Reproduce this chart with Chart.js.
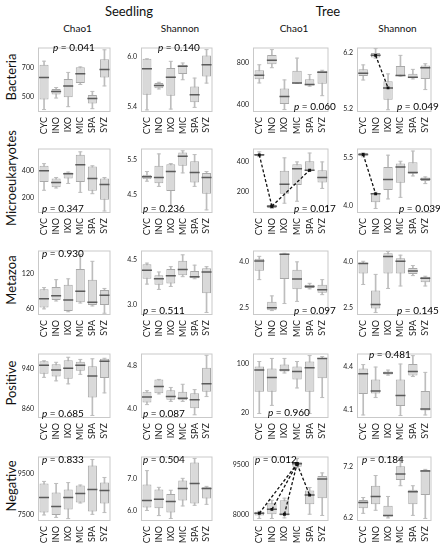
<!DOCTYPE html>
<html>
<head>
<meta charset="utf-8">
<script src="https://cdn.jsdelivr.net/npm/chart.js@4.4.1/dist/chart.umd.min.js"></script>
<style>
  body { margin: 0; background: #fff; font-family: Lato, sans-serif; }
  #wrap { position: relative; width: 440px; height: 550px; overflow: hidden; }
  .panel { position: absolute; }
  .txt { position: absolute; white-space: nowrap; color: #111; font-weight: 400; line-height: 1; transform: translate(-50%, -50%); }
  .pval { position: absolute; white-space: nowrap; font-size: 10px; color: #000; line-height: 1; transform: translateY(-50%); }
  .rowlab { position: absolute; font-size: 13px; color: #111; line-height: 1; white-space: nowrap; transform: translate(-50%, -50%) rotate(-90deg); }
</style>
</head>
<body>
<div id="wrap"></div>
<script>
const groups = ['CYC', 'INO', 'IXO', 'MIC', 'SPA', 'SYZ'];
const rowNames = ['Bacteria', 'Microeukaryotes', 'Metazoa', 'Positive', 'Negative'];
const stages = ['Seedling', 'Tree'];
const indexNames = ['Chao1', 'Shannon', 'Chao1', 'Shannon'];

// each box: [min, q1, median, q3, max], in group order
const seedChaoBacteria = [[410, 479, 632, 721, 746], [490, 515, 536, 552, 563], [430, 496, 574, 622, 668], [584, 595, 658, 704, 706], [416, 452, 486, 511, 536], [574, 632, 689, 759, 825]];
const seedShanBacteria = [[5.36, 5.54, 5.85, 5.97, 5.97], [5.61, 5.62, 5.65, 5.68, 5.69], [5.37, 5.53, 5.75, 5.86, 5.94], [5.72, 5.79, 5.88, 5.90, 5.92], [5.39, 5.45, 5.54, 5.64, 5.74], [5.68, 5.76, 5.90, 6.01, 6.08]];
const treeChaoBacteria = [[605, 640, 677, 725, 777], [749, 783, 820, 869, 920], [354, 406, 477, 554, 634], [600, 600, 605, 720, 840], [575, 582, 591, 640, 685], [485, 597, 706, 720, 725]];
const treeShanBacteria = [[5.71, 5.78, 5.83, 5.90, 5.98], [6.10, 6.11, 6.15, 6.19, 6.27], [5.18, 5.36, 5.57, 5.69, 5.82], [5.78, 5.79, 5.79, 5.96, 6.15], [5.73, 5.74, 5.76, 5.82, 5.90], [5.54, 5.73, 5.93, 5.97, 6.00]];

const seedChaoMicro = [[253, 315, 400, 437, 453], [270, 275, 311, 342, 349], [304, 342, 378, 387, 390], [237, 315, 444, 520, 542], [227, 249, 342, 431, 437], [97, 182, 297, 342, 349]];
const seedShanMicro = [[4.88, 4.94, 5.01, 5.07, 5.16], [4.73, 4.82, 4.99, 5.33, 5.67], [4.15, 4.60, 5.16, 5.37, 5.39], [5.12, 5.33, 5.60, 5.71, 5.76], [4.73, 4.84, 5.13, 5.46, 5.65], [4.05, 4.52, 4.99, 5.12, 5.16]];
const treeChaoMicro = [[431, 435, 443, 449, 463], [87, 91, 102, 110, 116], [122, 185, 247, 338, 423], [135, 243, 351, 381, 396], [335, 338, 341, 400, 455], [220, 259, 292, 341, 396]];
const treeShanMicro = [[5.53, 5.56, 5.60, 5.65, 5.65], [3.91, 4.11, 4.37, 4.39, 4.42], [4.21, 4.49, 4.82, 5.21, 5.58], [4.26, 4.72, 5.21, 5.32, 5.39], [4.93, 5.00, 5.04, 5.36, 5.71], [4.69, 4.77, 4.83, 4.88, 4.90]];

const seedChaoMetazoa = [[60, 62.5, 77.5, 93.5, 96.5], [73.5, 75, 82.5, 97.5, 110], [55, 56.5, 75, 101.5, 111.5], [70, 71.5, 90, 128.5, 153.5], [65, 66.5, 71.5, 110, 141.5], [52.5, 66.5, 83.5, 92.5, 95]];
const seedShanMetazoa = [[3.69, 3.87, 4.16, 4.36, 4.40], [3.51, 3.67, 3.87, 3.99, 4.10], [3.61, 3.71, 3.97, 4.20, 4.28], [3.94, 3.99, 4.18, 4.48, 4.68], [3.87, 3.89, 3.94, 4.13, 4.33], [2.73, 3.38, 4.10, 4.23, 4.28]];
const treeChaoMetazoa = [[3.42, 3.71, 4.03, 4.10, 4.18], [2.41, 2.42, 2.50, 2.70, 2.89], [2.64, 3.44, 4.25, 4.27, 4.28], [2.71, 3.11, 3.44, 3.74, 4.00], [3.12, 3.15, 3.20, 3.25, 3.30], [2.93, 2.99, 3.09, 3.25, 3.42]];
const treeShanMetazoa = [[3.26, 3.62, 3.95, 3.98, 4.02], [2.34, 2.47, 2.60, 3.06, 3.59], [3.13, 3.62, 4.18, 4.28, 4.34], [3.21, 3.62, 4.02, 4.12, 4.22], [3.55, 3.60, 3.70, 3.80, 3.88], [3.21, 3.33, 3.46, 3.51, 3.53]];

const seedChaoPositive = [[922, 929, 946, 954, 955], [915, 923.5, 936.5, 948, 952], [909, 919, 940, 956, 962], [928, 935, 946, 953, 957.7], [846, 882, 924.6, 944, 959], [891, 920.6, 954, 959, 960]];
const seedShanPositive = [[4.07, 4.11, 4.21, 4.31, 4.33], [4.27, 4.28, 4.41, 4.54, 4.54], [4.13, 4.16, 4.22, 4.34, 4.39], [4.13, 4.15, 4.19, 4.31, 4.45], [3.88, 4.00, 4.16, 4.28, 4.35], [4.22, 4.31, 4.46, 4.76, 4.99]];
const treeChaoPositive = [[18.5, 54, 89, 95, 103], [31.7, 54, 77, 91.7, 108], [84.3, 86.8, 89, 98, 108], [60, 73.7, 86.8, 95, 103], [18.5, 54, 93, 103, 112.6], [44.4, 75.6, 107.8, 108.8, 111]];
const treeShanPositive = [[4.063, 4.209, 4.35, 4.386, 4.413], [4.184, 4.213, 4.229, 4.309, 4.396], [4.34, 4.344, 4.354, 4.365, 4.375], [4.059, 4.125, 4.198, 4.309, 4.417], [4.33, 4.338, 4.365, 4.417, 4.475], [4.063, 4.094, 4.104, 4.229, 4.359]];

const seedChaoNegative = [[7500, 7616, 8340, 9022, 9122], [7382, 7500, 7904, 8587, 9022], [7325, 7760, 8340, 8730, 9065], [8079, 8108, 8543, 8920, 8948], [7530, 7673, 8730, 9891, 10180], [7616, 8050, 8687, 9065, 9312]];
const seedShanNegative = [[6.00, 6.09, 6.31, 6.81, 7.24], [5.84, 6.07, 6.35, 6.65, 6.72], [5.75, 5.94, 6.28, 6.51, 6.63], [6.14, 6.31, 6.68, 6.93, 7.00], [6.16, 6.22, 6.84, 7.49, 7.62], [6.19, 6.37, 6.68, 6.72, 6.75]];
const treeChaoNegative = [[7872, 7963, 8029, 8073, 8092], [7872, 8001, 8148, 8333, 8424], [7890, 7963, 8001, 8424, 8487], [9409, 9436, 9528, 9591, 9685], [8001, 8305, 8581, 8719, 8810], [7963, 8487, 9067, 9160, 9252]];
const treeShanNegative = [[6.29, 6.39, 6.50, 6.55, 6.60], [6.35, 6.47, 6.62, 6.83, 7.03], [6.20, 6.23, 6.25, 6.44, 6.62], [6.83, 6.94, 7.06, 7.21, 7.36], [6.25, 6.47, 6.71, 6.75, 6.83], [6.19, 6.65, 7.12, 7.14, 7.15]];

// y tick labels per panel (row by row, columns left to right)
const tickLabels = [
  [['500', '700'], ['5.4', '6.0'], ['400', '800'], ['5.2', '6.2']],
  [['200', '400'], ['4.5', '5.5'], ['200', '400'], ['4.0', '5.5']],
  [['60', '120'], ['3.0', '4.5'], ['2.5', '4.0'], ['2.5', '4.0']],
  [['860', '940'], ['4.0', '4.8'], ['20', '100'], ['4.1', '4.4']],
  [['7500', '9500'], ['6.0', '7.0'], ['8000', '9500'], ['6.2', '7.2']]
];
const pValues = [
  ['0.041', '0.140', '0.060', '0.049'],
  ['0.347', '0.236', '0.017', '0.039'],
  ['0.930', '0.511', '0.097', '0.145'],
  ['0.685', '0.087', '0.960', '0.481'],
  ['0.833', '0.504', '0.012', '0.184']
];

// dashed post-hoc links between group medians
const treeShanBacteriaLinks = [['INO', 'IXO']];
const treeChaoMicroLinks = [['CYC', 'INO'], ['INO', 'SPA']];
const treeShanMicroLinks = [['CYC', 'INO']];
const treeChaoNegativeLinks = [['MIC', 'CYC'], ['MIC', 'INO'], ['MIC', 'IXO'], ['MIC', 'SPA']];

const boxData = [
  [seedChaoBacteria, seedShanBacteria, treeChaoBacteria, treeShanBacteria],
  [seedChaoMicro, seedShanMicro, treeChaoMicro, treeShanMicro],
  [seedChaoMetazoa, seedShanMetazoa, treeChaoMetazoa, treeShanMetazoa],
  [seedChaoPositive, seedShanPositive, treeChaoPositive, treeShanPositive],
  [seedChaoNegative, seedShanNegative, treeChaoNegative, treeShanNegative]
];
const linkData = {
  '0-3': treeShanBacteriaLinks,
  '1-2': treeChaoMicroLinks,
  '1-3': treeShanMicroLinks,
  '4-2': treeChaoNegativeLinks
};

// layout
const colX = [38, 141, 253, 357];
const colW = [79, 78, 82, 81];
const rowY = [41, 142, 244, 347, 450];
const rowH = 71;
const yRange = [
  [[393, 841], [5.335, 6.105], [331, 940], [5.14, 6.29]],
  [[82, 567], [3.96, 5.826], [57, 485], [3.77, 5.789]],
  [[49.5, 160], [2.645, 4.826], [2.266, 4.371], [2.26, 4.373]],
  [[841, 969.5], [3.82, 5.024], [11.2, 116], [4.042, 4.49]],
  [[7209, 10326], [5.672, 7.68], [7796, 9748], [6.14, 7.402]]
];
const pPos = [
  [[53, 47], [158, 47], [294, 106], [397, 106]],
  [[42, 208], [143, 208], [294, 208], [399, 208]],
  [[42, 253], [143, 310], [294, 310], [397, 310]],
  [[42, 413], [143, 413], [268, 412], [369, 354]],
  [[42, 459], [143, 459], [255, 459], [362, 459]]
];

Chart.defaults.font.family = 'Lato, sans-serif';

const framePlugin = {
  id: 'frame',
  beforeDatasetsDraw(chart) {
    const {ctx, chartArea: a} = chart;
    ctx.save();
    ctx.strokeStyle = '#c9c9c9';
    ctx.lineWidth = 1;
    ctx.strokeRect(a.left + 0.5, a.top + 0.5, a.width - 1, a.height - 1);
    ctx.restore();
  }
};

const wrap = document.getElementById('wrap');

function addText(html, x, y, cls, size) {
  const d = document.createElement('div');
  d.className = cls;
  d.style.left = x + 'px';
  d.style.top = y + 'px';
  if (size) d.style.fontSize = size + 'px';
  d.innerHTML = html;
  wrap.appendChild(d);
}

addText(stages[0], 129, 11, 'txt', 13);
addText(stages[1], 328, 11, 'txt', 13);
for (let c = 0; c < 4; c++) {
  addText(indexNames[c], colX[c] + colW[c] / 2, 28, 'txt', 10);
}
for (let r = 0; r < 5; r++) {
  addText(rowNames[r], 11, rowY[r] + rowH / 2, 'rowlab');
}

for (let r = 0; r < 5; r++) {
  for (let c = 0; c < 4; c++) {
    const stats = boxData[r][c];
    const ticks = tickLabels[r][c];
    const div = document.createElement('div');
    div.className = 'panel';
    div.style.left = (colX[c] - 30) + 'px';
    div.style.top = rowY[r] + 'px';
    div.style.width = (colW[c] + 30) + 'px';
    div.style.height = (rowH + 34) + 'px';
    const cv = document.createElement('canvas');
    div.appendChild(cv);
    wrap.appendChild(div);

    const datasets = [
      {
        type: 'bar', data: stats.map(s => [s[0], s[4]]),
        backgroundColor: '#bdbdbd', barThickness: 1, grouped: false, order: 4
      },
      {
        type: 'bar', data: stats.map(s => [s[1], s[3]]),
        backgroundColor: '#d9d9d9', borderColor: '#a8a8a8', borderWidth: 1,
        borderSkipped: false, barPercentage: 0.75, categoryPercentage: 1,
        grouped: false, order: 3
      },
      {
        type: 'line', data: stats.map(s => s[0]), showLine: false,
        pointStyle: 'line', pointRadius: 2, pointBorderColor: '#bdbdbd', pointBorderWidth: 1, order: 2
      },
      {
        type: 'line', data: stats.map(s => s[4]), showLine: false,
        pointStyle: 'line', pointRadius: 2, pointBorderColor: '#bdbdbd', pointBorderWidth: 1, order: 2
      },
      {
        type: 'line', data: stats.map(s => s[2]), showLine: false,
        pointStyle: 'line', pointRadius: 5, pointBorderColor: '#5a5a5a', pointBorderWidth: 1.5, order: 1
      }
    ];
    (linkData[r + '-' + c] || []).forEach(([a, b]) => {
      const ia = groups.indexOf(a), ib = groups.indexOf(b);
      datasets.push({
        type: 'line',
        data: groups.map((g, i) => (i === ia || i === ib) ? stats[i][2] : null),
        spanGaps: true, borderColor: '#111', borderWidth: 1.3, borderDash: [3, 2],
        pointRadius: 1.1, pointStyle: 'rect', pointBackgroundColor: '#111', pointBorderColor: '#111',
        order: 0
      });
    });

    new Chart(cv, {
      type: 'bar',
      data: {labels: groups, datasets: datasets},
      options: {
        responsive: true,
        maintainAspectRatio: false,
        animation: false,
        layout: {padding: 0},
        plugins: {legend: {display: false}, tooltip: {enabled: false}},
        scales: {
          x: {
            grid: {display: false, drawTicks: false},
            border: {display: false},
            ticks: {minRotation: 90, maxRotation: 90, autoSkip: false, padding: 5, color: '#222', font: {size: 9}},
            afterFit: s => { s.height = 34; s.paddingLeft = 0; s.paddingRight = 0; }
          },
          y: {
            min: yRange[r][c][0],
            max: yRange[r][c][1],
            beginAtZero: false,
            grid: {display: false, drawTicks: false},
            border: {display: false},
            afterBuildTicks: s => { s.ticks = ticks.map(t => ({value: parseFloat(t)})); },
            ticks: {padding: 4, color: '#222', font: {size: 7}, callback: (v, i) => ticks[i]},
            afterFit: s => { s.width = 30; s.paddingTop = 0; s.paddingBottom = 0; }
          }
        }
      },
      plugins: [framePlugin]
    });

    addText('<i>p</i> = ' + pValues[r][c], pPos[r][c][0], pPos[r][c][1], 'pval');
  }
}
</script>
</body>
</html>
